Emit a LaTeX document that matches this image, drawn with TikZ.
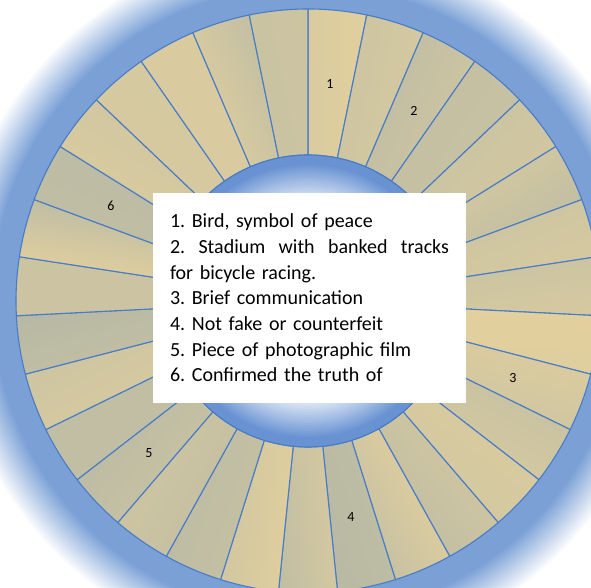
\documentclass[tikz,border=0pt]{standalone}
\usepackage{fontspec}
\setmainfont{Carlito}
\frenchspacing
\definecolor{glowblue}{RGB}{122,160,214}
\definecolor{discblue}{RGB}{104,146,210}
\definecolor{edgeblue}{RGB}{72,124,200}
\definecolor{papyrus}{RGB}{234,212,156}
\definecolor{reed}{RGB}{176,181,166}

\begin{document}
\begin{tikzpicture}[x=1pt,y=1pt,
  cell/.style={draw=edgeblue,line width=1.1pt,line join=round},
  num/.style={font=\fontsize{14}{14}\selectfont}]
  \useasboundingbox (0,0) rectangle (591,588);
  \begin{scope}
  \clip (0,0) rectangle (591,588);
  % soft glow round the wheel
  \foreach \r in {358,356,...,292}{
    \pgfmathsetmacro\p{min(100,(358-\r)*100/42)}
    \fill[glowblue!\p!white] (308,287) circle[radius=\r pt];
  }
  % the 31 cells
  \pgfmathsetseed{11}
  \foreach \i in {0,...,30}{
    \pgfmathsetmacro\a{90-\i*360/31}
    \pgfmathsetmacro\b{\a-360/31}
    \pgfmathsetmacro\m{int(20+80*rnd)}
    \pgfmathsetmacro\n{int(10+80*rnd)}
    \path[cell,left color=papyrus!\m!reed,right color=papyrus!\n!reed,shading angle=\a]
      ([shift={(\a:146pt)}]308,287) -- ([shift={(\a:292pt)}]308,287)
      arc[start angle=\a,end angle=\b,radius=292pt]
      -- ([shift={(\b:146pt)}]308,287)
      arc[start angle=\b,end angle=\a,radius=146pt] -- cycle;
  }
  % hub
  \foreach \r in {146,144,...,80}{
    \pgfmathsetmacro\p{max(0,min(100,(\r-92)*100/46))}
    \fill[discblue!\p!white] (308,287) circle[radius=\r pt];
  }
  \draw[edgeblue,line width=1.1pt] (308,287) circle[radius=146pt];
  \end{scope}

  \node[fill=white,minimum width=313pt,minimum height=210pt,text width=279pt,
    inner xsep=17pt,align=left,font=\fontsize{20}{25.7}\selectfont] (clues) at (309.5,290)
    {1. Bird, symbol of peace\\
     2.\hfill Stadium\hfill with\hfill banked\hfill tracks\\
     for bicycle racing.\\
     3. Brief communication\\
     4. Not fake or counterfeit\\
     5. Piece of photographic film\\
     6. Confirmed the truth of};

  \node[num] (n1) at (330,504) {1};
  \node[num] (n2) at (414,477) {2};
  \node[num] (n3) at (513,210) {3};
  \node[num] (n4) at (351,71) {4};
  \node[num] (n5) at (149,135) {5};
  \node[num] (n6) at (111,382) {6};
\end{tikzpicture}
\end{document}
